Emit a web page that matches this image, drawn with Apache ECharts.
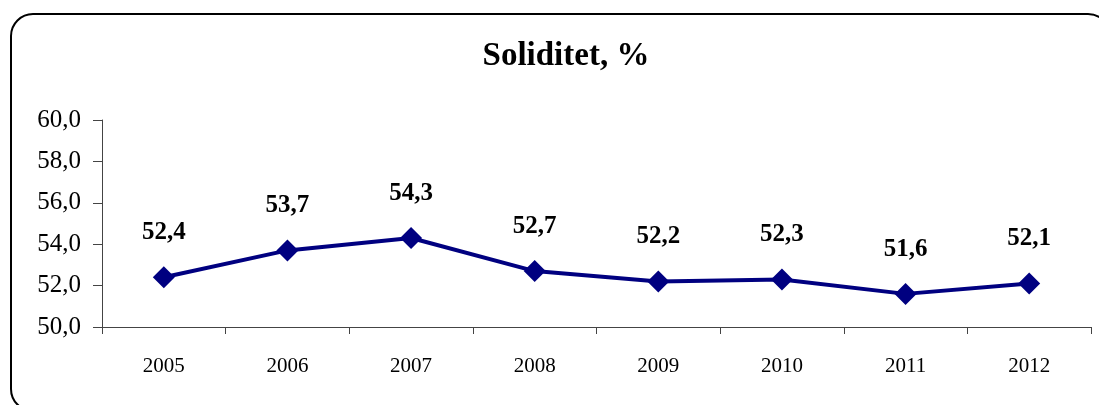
<!DOCTYPE html>
<html>
<head>
<meta charset="utf-8">
<script src="https://cdn.jsdelivr.net/npm/echarts@6/dist/echarts.min.js"></script>
<style>
  html, body { margin: 0; padding: 0; background: #fff; }
  #chart { width: 1099px; height: 405px; }
</style>
</head>
<body>
<div id="chart"></div>
<script>
const years = ['2005', '2006', '2007', '2008', '2009', '2010', '2011', '2012'];
const soliditet = [52.4, 53.7, 54.3, 52.7, 52.2, 52.3, 51.6, 52.1];
const yTicks = { min: 50, max: 60, step: 2 };

const FONT = '"Liberation Serif", "DejaVu Serif", serif';
const comma = (v) => Number(v).toFixed(1).replace('.', ',');

const chart = echarts.init(document.getElementById('chart'));

chart.setOption({
  backgroundColor: '#fff',
  animation: false,
  title: {
    text: 'Soliditet, %',
    left: 561,
    top: 35,
    textAlign: 'center',
    textStyle: { fontFamily: FONT, fontSize: 33, fontWeight: 'bold', color: '#000' }
  },
  // rounded frame, partly cut by the window like in the source picture
  graphic: [{
    type: 'rect',
    shape: { x: 11, y: 14, width: 1099, height: 397, r: 22 },
    style: { fill: 'none', stroke: '#000', lineWidth: 2 },
    silent: true
  }],
  grid: { left: 102, right: 8, top: 120, bottom: 78 },
  xAxis: {
    type: 'category',
    data: years,
    boundaryGap: true,
    axisLine: { lineStyle: { color: '#444', width: 1 } },
    axisTick: { show: true, length: 7, lineStyle: { color: '#444' } },
    axisLabel: { margin: 29, fontFamily: FONT, fontSize: 21, color: '#000' },
    splitLine: { show: false }
  },
  yAxis: {
    type: 'value',
    min: yTicks.min,
    max: yTicks.max,
    interval: yTicks.step,
    axisLine: { show: true, lineStyle: { color: '#444', width: 1 } },
    axisTick: { show: true, length: 9, lineStyle: { color: '#444' } },
    axisLabel: { margin: 21, fontFamily: FONT, fontSize: 25, color: '#000', formatter: comma },
    splitLine: { show: false }
  },
  series: [{
    type: 'line',
    data: soliditet,
    symbol: 'diamond',
    symbolSize: 22,
    lineStyle: { color: '#000080', width: 4 },
    itemStyle: { color: '#000080' },
    label: {
      show: true,
      position: 'top',
      distance: 21,
      fontFamily: FONT,
      fontSize: 25,
      fontWeight: 'bold',
      color: '#000',
      formatter: (p) => comma(p.value)
    }
  }]
});
</script>
</body>
</html>
